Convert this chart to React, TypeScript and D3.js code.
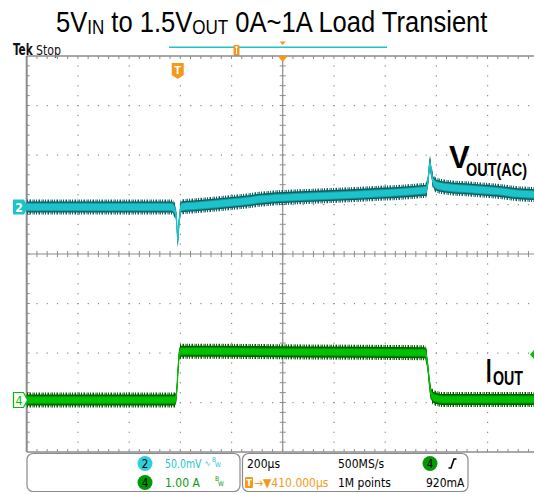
import React, { useLayoutEffect, useRef, useState } from 'react';
import * as d3 from 'd3';

// ---- Data ----
// Channel 2: VOUT(AC), mV vs time (µs, 0 = trigger)
const voutTime = [-590, -300, -23, -12, -5, 0, 4, 8, 13, 60, 150, 250, 320, 450, 600, 789, 900, 947, 970, 979, 985, 991, 998, 1012, 1050, 1150, 1250, 1330, 1410];
const voutMv = [0, 0, 0, -3, -12, -33, -20, -8, 0, 1, 3, 5.5, 7.8, 10, 11.5, 13.8, 15.5, 16.5, 17, 30, 44, 35, 25.6, 22, 20, 18, 16, 13.5, 12.5];
// Channel 4: IOUT, A vs time (µs)
const ioutTime = [-590, -12, -7, -3, 1, 5, 9, 14, 500, 965, 971, 976, 981, 986, 992, 1000, 1012, 1035, 1410];
const ioutA = [0, 0, 0.04, 0.25, 0.6, 0.88, 0.97, 0.985, 0.97, 0.955, 0.9, 0.7, 0.45, 0.22, 0.1, 0.05, 0.03, 0.01, 0.01];

const titleParts = ['5V', 'IN', ' to 1.5V', 'OUT', ' 0A~1A Load Transient'];
const ch2Scale = '50.0mV';
const ch4Scale = '1.00 A';
const timeBase = '200µs';
const sampleRate = '500MS/s';
const recordLen = '1M points';
const trigDelay = '→▼410.000µs';
const trigLevel = '920mA';

// ---- Layout ----
const W = 534, H = 494;
const X0 = 26.7, DX = 51.2, Y0 = 56, DY = 49.5;
const NX = 10, NY = 8;
const XR = X0 + NX * DX, YB = Y0 + NY * DY;
const XC = X0 + 5 * DX, YC = Y0 + 4 * DY;

const x = d3.scaleLinear().domain([-590, 1410]).range([X0, XR]);
const vGround = 207;
const yV = d3.scaleLinear().domain([-50, 50]).range([vGround + DY, vGround - DY]);
const iGround = 400;
const yI = d3.scaleLinear().domain([-1, 1]).range([iGround + DY, iGround - DY]);

function band(ts: number[], vs: number[], ys: (v: number) => number, half: number) {
  const pts = ts.map((t, i) => [x(t), ys(vs[i])] as [number, number]);
  return d3.area<[number, number]>().x(d => d[0]).y0(d => d[1] + half).y1(d => d[1] - half).curve(d3.curveMonotoneX)(pts) || '';
}
function lineP(ts: number[], vs: number[], ys: (v: number) => number) {
  const pts = ts.map((t, i) => [x(t), ys(vs[i])] as [number, number]);
  return d3.line<[number, number]>().x(d => d[0]).y(d => d[1]).curve(d3.curveMonotoneX)(pts) || '';
}

const GRID = '#8c8c8c';
const CYAN = '#1cc3cb';
const CYAN_D = '#0f5d5e';
const CYAN_M = '#15979d';
const GREEN = '#00c000';
const GREEN_D = '#005c00';
const GREEN_M = '#008e00';
const ORANGE = '#f39a1e';
const COND = '"DejaVu Sans Condensed", "DejaVu Sans", sans-serif';
const SANS = '"Liberation Sans", Arial, sans-serif';

// Text squeezed horizontally to a target width (keeps glyph height)
function FitText(props: { x: number; y: number; width: number; children: React.ReactNode; [k: string]: any }) {
  const { x: tx, y: ty, width, children, ...rest } = props;
  const ref = useRef<SVGTextElement>(null);
  const [sx, setSx] = useState(1);
  useLayoutEffect(() => {
    if (ref.current) {
      const w = ref.current.getBBox().width;
      if (w > 0) setSx(width / w);
    }
  }, [width]);
  return (
    <g transform={`translate(${tx},${ty}) scale(${sx},1)`}>
      <text ref={ref} x={0} y={0} {...rest}>{children}</text>
    </g>
  );
}

export default function App() {
  const dots: JSX.Element[] = [];
  for (let k = 1; k < NY; k++) {
    if (k === 4) continue;
    const yy = Y0 + k * DY;
    for (let j = 1; j < NX * 5; j++) {
      dots.push(<rect key={`h${k}-${j}`} x={X0 + j * DX / 5 - 0.5} y={yy - 0.5} width={1.2} height={1.2} fill={GRID} />);
    }
  }
  for (let k = 1; k < NX; k++) {
    if (k === 5) continue;
    const xx = X0 + k * DX;
    for (let j = 1; j < NY * 5; j++) {
      dots.push(<rect key={`v${k}-${j}`} x={xx - 0.5} y={Y0 + j * DY / 5 - 0.5} width={1.2} height={1.2} fill={GRID} />);
    }
  }
  const ticks: JSX.Element[] = [];
  for (let j = 1; j < NX * 5; j++) {
    const xx = X0 + j * DX / 5;
    ticks.push(<line key={`tt${j}`} x1={xx} x2={xx} y1={Y0} y2={Y0 + 3} stroke={GRID} strokeWidth={1} />);
    ticks.push(<line key={`tb${j}`} x1={xx} x2={xx} y1={YB} y2={YB - 3} stroke={GRID} strokeWidth={1} />);
    ticks.push(<line key={`tc${j}`} x1={xx} x2={xx} y1={YC - 3} y2={YC + 3} stroke={GRID} strokeWidth={1} />);
  }
  for (let j = 1; j < NY * 5; j++) {
    const yy = Y0 + j * DY / 5;
    ticks.push(<line key={`tl${j}`} x1={X0} x2={X0 + 3} y1={yy} y2={yy} stroke={GRID} strokeWidth={1} />);
    ticks.push(<line key={`tm${j}`} x1={XC - 3} x2={XC + 3} y1={yy} y2={yy} stroke={GRID} strokeWidth={1} />);
  }

  return (
    <svg width={W} height={H} style={{ position: 'absolute', left: 0, top: 0, background: '#fff' }}>
      <defs>
        <pattern id="noiseC" patternUnits="userSpaceOnUse" width={9} height={20}>
          <rect x={0} y={0} width={1} height={20} fill={CYAN_D} />
          <rect x={2.5} y={0} width={1.5} height={20} fill={CYAN_D} />
          <rect x={5.5} y={0} width={1} height={20} fill={CYAN_D} />
          <rect x={7.2} y={0} width={0.8} height={20} fill={CYAN_D} />
        </pattern>
        <pattern id="noiseG" patternUnits="userSpaceOnUse" width={9} height={20}>
          <rect x={0} y={0} width={1} height={20} fill={GREEN_D} />
          <rect x={2.5} y={0} width={1.5} height={20} fill={GREEN_D} />
          <rect x={5.5} y={0} width={1} height={20} fill={GREEN_D} />
          <rect x={7.2} y={0} width={0.8} height={20} fill={GREEN_D} />
        </pattern>
      </defs>

      {/* Title */}
      <FitText x={56} y={32} width={432} fontFamily={SANS} fontSize={30} fill="#000">
        <tspan>{titleParts[0]}</tspan>
        <tspan fontSize={20} dy={2}>{titleParts[1]}</tspan>
        <tspan dy={-2}>{titleParts[2]}</tspan>
        <tspan fontSize={20} dy={2}>{titleParts[3]}</tspan>
        <tspan dy={-2}>{titleParts[4]}</tspan>
      </FitText>

      {/* Tek Stop */}
      <FitText x={13} y={55} width={20} fontFamily={COND} fontWeight="bold" fontSize={16} fill="#111">Tek</FitText>
      <FitText x={36} y={55} width={25} fontFamily={COND} fontSize={14.5} fill="#111">Stop</FitText>

      {/* top indicators */}
      <line x1={169} x2={387} y1={47.3} y2={47.3} stroke={CYAN} strokeWidth={1.5} />
      <rect x={233.5} y={45} width={6} height={11} rx={1} fill={ORANGE} />
      <line x1={235} x2={238} y1={47} y2={47} stroke="#fff" strokeWidth={1} />
      <line x1={236.5} x2={236.5} y1={47} y2={54} stroke="#fff" strokeWidth={1} />
      <path d={`M${XC - 3},41.5 L${XC + 3},41.5 L${XC},45 Z`} fill={ORANGE} />

      {/* grid */}
      <g>{dots}</g>
      <g>{ticks}</g>
      <line x1={X0} x2={W + 10} y1={Y0} y2={Y0} stroke={GRID} strokeWidth={1.5} />
      <line x1={X0} x2={W + 10} y1={YB} y2={YB} stroke={GRID} strokeWidth={1.5} />
      <line x1={X0} x2={W + 10} y1={YC} y2={YC} stroke={GRID} strokeWidth={1.2} />
      <line x1={XC} x2={XC} y1={Y0} y2={YB} stroke={GRID} strokeWidth={1.2} />
      <line x1={X0} x2={X0} y1={Y0} y2={YB} stroke={GRID} strokeWidth={2} />

      {/* trigger markers */}
      <path d={`M${XC - 5},${Y0} L${XC + 5},${Y0} L${XC},${Y0 + 6} Z`} fill={ORANGE} />
      <path d={`M${x(0) - 6},63 L${x(0) + 6},63 L${x(0) + 6},75 L${x(0)},79 L${x(0) - 6},75 Z`} fill={ORANGE} />
      <text x={x(0)} y={74} textAnchor="middle" fontFamily={SANS} fontWeight="bold" fontSize={11} fill="#fff">T</text>

      {/* CH2 trace */}
      <path d={band(voutTime, voutMv, yV, 7.5)} fill="url(#noiseC)" />
      <path d={band(voutTime, voutMv, yV, 5.5)} fill={CYAN_D} />
      <path d={band(voutTime, voutMv, yV, 4.2)} fill={CYAN_M} />
      <path d={band(voutTime, voutMv, yV, 3.2)} fill={CYAN} />
      <path d={lineP(voutTime, voutMv, yV)} fill="none" stroke={CYAN} strokeWidth={1.3} />

      {/* CH4 trace */}
      <path d={band(ioutTime, ioutA, yI, 7.5)} fill="url(#noiseG)" />
      <path d={band(ioutTime, ioutA, yI, 5.5)} fill={GREEN_D} />
      <path d={band(ioutTime, ioutA, yI, 4.2)} fill={GREEN_M} />
      <path d={band(ioutTime, ioutA, yI, 3.2)} fill={GREEN} />
      <path d={lineP(ioutTime, ioutA, yI)} fill="none" stroke={GREEN} strokeWidth={1.3} />

      {/* channel ground markers */}
      <path d={`M13,${vGround - 7.5} L24,${vGround - 7.5} L28,${vGround} L24,${vGround + 7.5} L13,${vGround + 7.5} Z`} fill={CYAN} />
      <text x={19} y={vGround + 4.5} textAnchor="middle" fontFamily={COND} fontWeight="bold" fontSize={12} fill="#fff">2</text>
      <path d={`M13.5,${iGround - 7.5} L23.5,${iGround - 7.5} L27.5,${iGround} L23.5,${iGround + 7.5} L13.5,${iGround + 7.5} Z`} fill="#fff" stroke={GREEN} strokeWidth={1.2} />
      <text x={19} y={iGround + 4.5} textAnchor="middle" fontFamily={COND} fontSize={12.5} fill={GREEN}>4</text>

      {/* trigger level arrow */}
      <path d={`M${W},${yI(0.92) - 4.5} L${W - 4},${yI(0.92)} L${W},${yI(0.92) + 4.5} Z`} fill={GREEN} />

      {/* labels */}
      <text x={449} y={168} fontFamily={SANS} fontWeight="bold" fontSize={31} fill="#000">V</text>
      <FitText x={466} y={176} width={61} fontFamily={SANS} fontWeight="bold" fontSize={18} fill="#000">OUT(AC)</FitText>
      <FitText x={486} y={382} width={5.5} fontFamily={SANS} fontWeight="bold" fontSize={34} fill="#000">I</FitText>
      <FitText x={493} y={385} width={30} fontFamily={SANS} fontWeight="bold" fontSize={20} fill="#000">OUT</FitText>

      {/* bottom info boxes */}
      <rect x={27} y={453.5} width={213} height={38} rx={6} fill="#fff" stroke="#8a8a8a" strokeWidth={1.2} />
      <rect x={242.5} y={453.5} width={225.5} height={38} rx={6} fill="#fff" stroke="#8a8a8a" strokeWidth={1.2} />

      <ellipse cx={145} cy={463.5} rx={7.5} ry={7.5} fill="#2cd0dc" />
      <text x={145} y={467.5} textAnchor="middle" fontFamily={COND} fontSize={11.5} fill="#000">2</text>
      <FitText x={165} y={467.5} width={37} fontFamily={COND} fontSize={12} fill={CYAN}>{ch2Scale}</FitText>
      <text x={204.5} y={466} fontFamily={COND} fontSize={8} fill={CYAN}>∿</text>
      <text x={212} y={462} fontFamily={COND} fontSize={6.5} fill={CYAN}>B</text>
      <text x={215} y={467} fontFamily={COND} fontSize={6.5} fill={CYAN}>W</text>

      <ellipse cx={145} cy={482.5} rx={7.5} ry={7.5} fill="#009a00" />
      <text x={145} y={486.5} textAnchor="middle" fontFamily={COND} fontSize={11.5} fill="#000">4</text>
      <text x={165} y={486.5} fontFamily={COND} fontSize={12} fill="#0a9a0a">{ch4Scale}</text>
      <text x={215} y={481} fontFamily={COND} fontSize={6.5} fill="#0a9a0a">B</text>
      <text x={218} y={486} fontFamily={COND} fontSize={6.5} fill="#0a9a0a">W</text>

      <text x={247} y={467.5} fontFamily={COND} fontSize={12} fill="#000">{timeBase}</text>
      <text x={338} y={467.5} fontFamily={COND} fontSize={12} fill="#000">{sampleRate}</text>
      <ellipse cx={430} cy={463.5} rx={7.5} ry={7.5} fill="#009a00" />
      <text x={430} y={467.5} textAnchor="middle" fontFamily={COND} fontSize={11.5} fill="#000">4</text>
      <path d="M448.5,468 L451,468 L454,459 L456.5,459" fill="none" stroke="#000" strokeWidth={1.6} />

      <rect x={245} y={477} width={8} height={11} rx={1} fill={ORANGE} />
      <text x={249} y={486} textAnchor="middle" fontFamily={COND} fontWeight="bold" fontSize={9} fill="#fff">T</text>
      <text x={254} y={486.5} fontFamily={COND} fontSize={12} fill={ORANGE}>{trigDelay}</text>
      <text x={338} y={486.5} fontFamily={COND} fontSize={12} fill="#000">{recordLen}</text>
      <text x={426} y={486.5} fontFamily={COND} fontSize={12} fill="#000">{trigLevel}</text>
    </svg>
  );
}
